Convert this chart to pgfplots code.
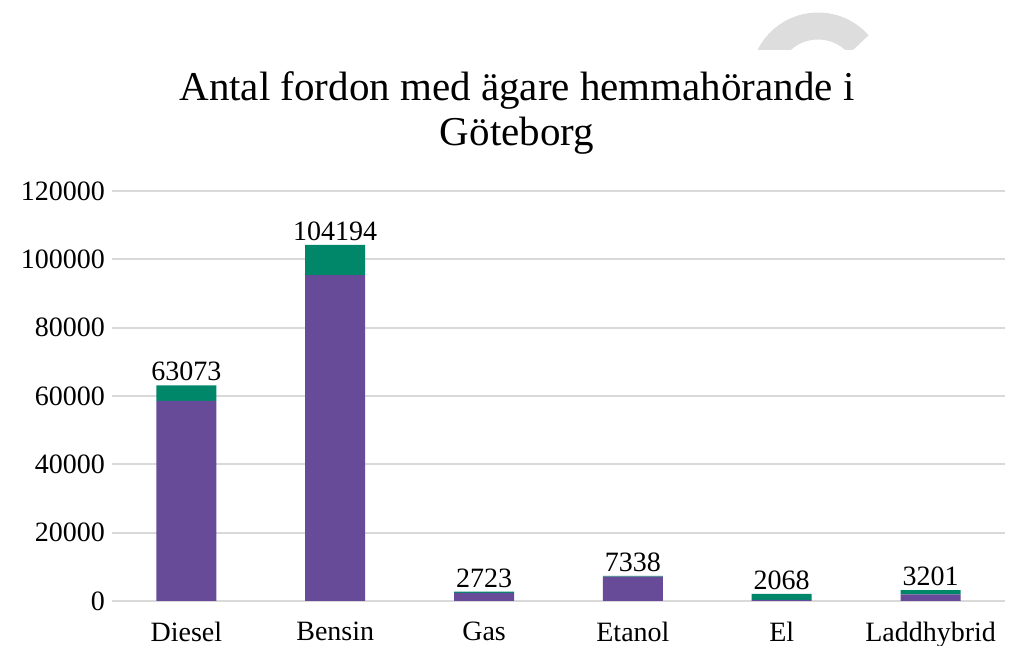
\documentclass[border=0pt]{standalone}
\usepackage{fontspec}
\setmainfont{Liberation Serif}
\usepackage{pgfplots}
\pgfplotsset{compat=1.18}
\definecolor{lila}{HTML}{674A98}
\definecolor{gron}{HTML}{00876A}
\definecolor{grid}{HTML}{D9D9D9}

\begin{document}
\begin{tikzpicture}
\path[use as bounding box] (-56pt,-22.5pt) rectangle (461pt,300.5pt);
\pgfplotsset{myaxis/.style={
  scale only axis, width=446.5pt, height=205pt,
  xmin=-0.5, xmax=5.5, ymin=0, ymax=120000}}
\begin{axis}[myaxis,
  ybar stacked, bar width=30pt,
  xtick=data, xticklabels={Diesel,Bensin,Gas,Etanol,El,Laddhybrid},
  ytick={0,20000,40000,60000,80000,100000,120000},
  yticklabels={0,20000,40000,60000,80000,100000,120000},
  scaled y ticks=false,
  tick label style={font=\fontsize{14}{16}\selectfont},
  major tick length=0pt,
  axis line style={draw=none},
  ymajorgrids, grid style={draw=grid, line width=1pt},
  yticklabel style={xshift=0pt},
  xticklabel style={yshift=-7pt},
]
\addplot[fill=lila, draw=none] coordinates {(0,58600) (1,95400) (2,2400) (3,7100) (4,300) (5,1900)};
\addplot[fill=gron, draw=none] coordinates {(0,4473) (1,8794) (2,323) (3,238) (4,1768) (5,1301)};
\end{axis}
% totals
\begin{axis}[myaxis, hide axis]
\addplot[draw=none, mark=none,
  point meta=explicit symbolic, nodes near coords={\pgfplotspointmeta},
  nodes near coords style={font=\fontsize{14}{16}\selectfont, text=black, anchor=south, inner sep=2pt}]
  coordinates {(0,63073) [63073] (1,104194) [104194] (2,2723) [2723] (3,7338) [7338] (4,2068) [2068] (5,3201) [3201]};
\end{axis}
\node[align=center, font=\fontsize{20.5}{22.5}\selectfont] at (202.5pt,244pt) {Antal fordon med ägare hemmahörande i\\Göteborg};
\begin{scope}
\clip (280pt,275.5pt) rectangle (430pt,310pt);
\draw[line width=13.5pt, color=grid!90] (353pt,260.5pt) ++(165:27pt) arc[start angle=165, end angle=41, radius=27pt];
\end{scope}
\end{tikzpicture}
\end{document}
